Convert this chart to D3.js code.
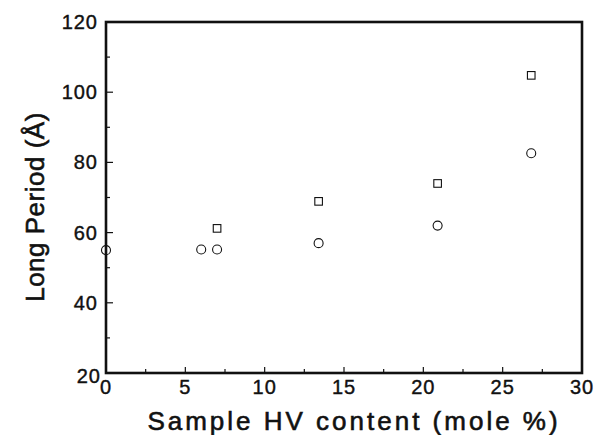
<!DOCTYPE html>
<html>
<head>
<meta charset="utf-8">
<script src="https://cdn.jsdelivr.net/npm/d3@7"></script>
<style>
  body { margin: 0; background: #fff; }
  text { font-family: "Liberation Sans", Arial, sans-serif; fill: #111; }
</style>
</head>
<body>
<div id="chart"></div>
<script>
// Chart data
var hvCircle = [0, 6, 7, 13.4, 20.9, 26.8];
var periodCircle = [55, 55.2, 55.2, 57, 62, 82.6];
var hvSquare = [7, 13.4, 20.9, 26.8];
var periodSquare = [61.2, 68.9, 74, 104.8];
var xTicks = [0, 5, 10, 15, 20, 25, 30];
var yTicks = [20, 40, 60, 80, 100, 120];

var svgWidth = 596;
var svgHeight = 435;

var margin = { top: 22, right: 14, bottom: 62, left: 106 };
var chartWidth = svgWidth - margin.left - margin.right;
var chartHeight = svgHeight - margin.top - margin.bottom;

var svg = d3.select("#chart")
  .append("svg")
  .attr("width", svgWidth)
  .attr("height", svgHeight);

var chartGroup = svg.append("g")
  .attr("transform", `translate(${margin.left}, ${margin.top})`);

var x = d3.scaleLinear().domain([0, 30]).range([0, chartWidth]);
var y = d3.scaleLinear().domain([20, 120]).range([chartHeight, 0]);

// minor ticks, pointing inward
var xMinor = d3.range(0, 30.01, 2.5);
var yMinor = d3.range(20, 120.01, 10);

chartGroup.selectAll(".xtick")
  .data(xMinor)
  .enter()
  .append("line")
  .attr("x1", d => x(d))
  .attr("x2", d => x(d))
  .attr("y1", chartHeight)
  .attr("y2", d => chartHeight - (d % 5 === 0 ? 6 : 4))
  .attr("stroke", "#111")
  .attr("stroke-width", 1.2);

chartGroup.selectAll(".ytick")
  .data(yMinor)
  .enter()
  .append("line")
  .attr("x1", 0)
  .attr("x2", d => (d % 20 === 0 ? 7 : 4))
  .attr("y1", d => y(d))
  .attr("y2", d => y(d))
  .attr("stroke", "#111")
  .attr("stroke-width", 1.2);

// frame
chartGroup.append("rect")
  .attr("x", 0)
  .attr("y", 0)
  .attr("width", chartWidth)
  .attr("height", chartHeight)
  .attr("fill", "none")
  .attr("stroke", "#111")
  .attr("stroke-width", 2.6);

// tick labels
chartGroup.selectAll(".xlab")
  .data(xTicks)
  .enter()
  .append("text")
  .attr("x", d => x(d))
  .attr("y", chartHeight + 21)
  .attr("text-anchor", "middle")
  .attr("font-size", 20)
  .attr("letter-spacing", 1)
  .attr("stroke", "#111")
  .attr("stroke-width", 0.4)
  .text(d => d);

chartGroup.selectAll(".ylab")
  .data(yTicks)
  .enter()
  .append("text")
  .attr("x", d => (d === 20 ? -5 : -8))
  .attr("y", d => y(d) + 7 + (d === 20 ? 3 : 0))
  .attr("text-anchor", "end")
  .attr("font-size", 20)
  .attr("letter-spacing", 1)
  .attr("stroke", "#111")
  .attr("stroke-width", 0.4)
  .text(d => d);

// points
chartGroup.selectAll(".circ")
  .data(hvCircle)
  .enter()
  .append("circle")
  .attr("cx", d => x(d))
  .attr("cy", (d, i) => y(periodCircle[i]))
  .attr("r", 4.5)
  .attr("fill", "none")
  .attr("stroke", "#111")
  .attr("stroke-width", 1.1);

chartGroup.selectAll(".sq")
  .data(hvSquare)
  .enter()
  .append("rect")
  .attr("x", d => x(d) - 3.8)
  .attr("y", (d, i) => y(periodSquare[i]) - 3.8)
  .attr("width", 7.6)
  .attr("height", 7.6)
  .attr("fill", "none")
  .attr("stroke", "#111")
  .attr("stroke-width", 1.1);

// axis titles
svg.append("text")
  .attr("x", 354)
  .attr("y", 430)
  .attr("text-anchor", "middle")
  .attr("font-size", 26)
  .attr("letter-spacing", 3)
  .attr("stroke", "#111")
  .attr("stroke-width", 0.6)
  .text("Sample HV content (mole %)");

svg.append("text")
  .attr("transform", "translate(44, 207) rotate(-90)")
  .attr("text-anchor", "middle")
  .attr("font-size", 26)
  .attr("letter-spacing", 0.5)
  .attr("stroke", "#111")
  .attr("stroke-width", 0.6)
  .text("Long Period (Å)");
</script>
</body>
</html>
